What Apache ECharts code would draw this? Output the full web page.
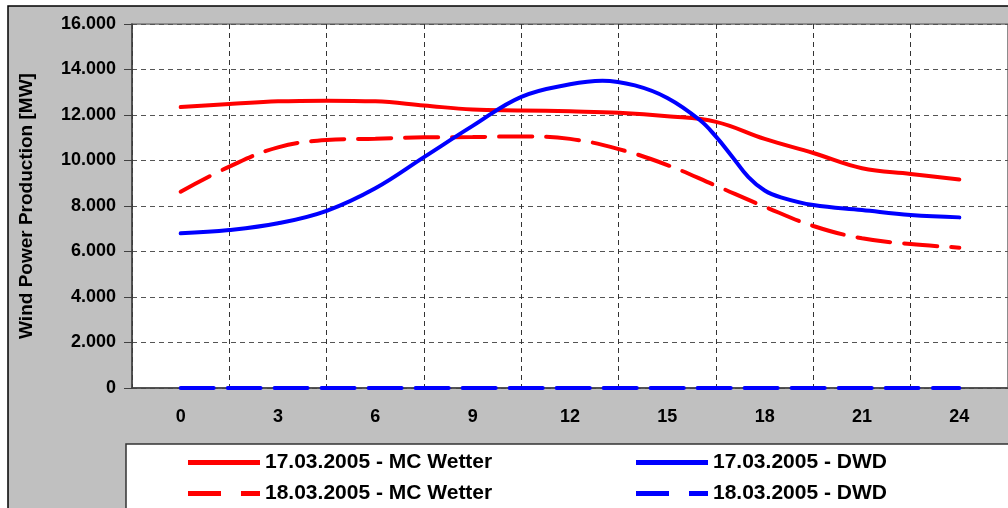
<!DOCTYPE html>
<html lang="de">
<head>
  <meta charset="UTF-8">
  <title>Wind Power Production</title>
  <style>
    html, body { margin: 0; padding: 0; background: #fff; }
    #chart { width: 1008px; height: 508px; }
  </style>
  <script src="https://cdn.jsdelivr.net/npm/echarts@6/dist/echarts.min.js"></script>
</head>
<body>
<div id="chart"></div>
<script>
  // Achsenbeschriftung (Stunden)
  const hourLabels = ['0', '3', '6', '9', '12', '15', '18', '21', '24']
  // Stützstellen der Kurven (Stunde)
  const hours = [0, 1.5, 3, 4.5, 6, 7.5, 9, 10.5, 12, 13.5, 15, 16.5, 18, 19.5, 21, 22.5, 24]
  const dwdHours = [0, 1.5, 3, 4.5, 6, 7.5, 9, 10.5, 12, 13, 14, 15, 16, 16.5, 17, 17.5, 18, 18.5, 19.5, 21, 22.5, 24]

  // Werte in MW
  const mc17  = [12350, 12480, 12600, 12630, 12600, 12420, 12240, 12200, 12160, 12100, 11950, 11700, 10950, 10330, 9660, 9410, 9160]
  const mc18  = [8630, 9730, 10580, 10900, 10960, 11020, 11030, 11060, 10950, 10500, 9800, 8890, 7970, 7120, 6580, 6330, 6170]
  const dwd17 = [6800, 6945, 7240, 7790, 8780, 10150, 11520, 12800, 13350, 13510, 13300, 12750, 11780, 11050, 10170, 9270, 8680, 8380, 8040, 7820, 7600, 7500]
  const dwd18 = [0, 0, 0, 0, 0, 0, 0, 0, 0, 0, 0, 0, 0, 0, 0, 0, 0]

  const names = ['17.03.2005 - MC Wetter', '18.03.2005 - MC Wetter', '17.03.2005 - DWD', '18.03.2005 - DWD']

  const pairs = (xs, vals) => xs.map((h, i) => [h, vals[i]])
  const fontFam = '"Liberation Sans", Arial, sans-serif'

  // Legendensymbole: durchgezogen bzw. gestrichelt
  const iconSolid = 'path://M0,0h72v5h-72z'
  const iconDash = 'path://M0,0h33v5h-33z M53,0h19v5h-19z'

  function lineSeries(name, xs, vals, color, dashed) {
    return {
      name: name,
      type: 'line',
      xAxisIndex: 1,
      data: pairs(xs, vals),
      smooth: 0.4,
      symbol: 'none',
      lineStyle: { color: color, width: 4, type: dashed ? [33, 14] : 'solid', cap: 'round' },
      itemStyle: { color: color }
    }
  }

  const legendText = { fontSize: 21, fontWeight: 'bold', color: '#000', fontFamily: fontFam }

  const chart = echarts.init(document.getElementById('chart'))
  const option = {
    animation: false,
    textStyle: { fontFamily: fontFam },
    graphic: [
      { // grauer Hintergrund mit Rahmen
        type: 'rect', z: -10,
        shape: { x: 8, y: 6, width: 1010, height: 520 },
        style: { fill: '#c0c0c0', stroke: '#000', lineWidth: 1.5 }
      },
      { // Legendenkasten
        type: 'rect', z: -5,
        shape: { x: 126, y: 444, width: 900, height: 80 },
        style: { fill: '#fff', stroke: '#333', lineWidth: 1.5 }
      }
    ],
    grid: {
      left: 132, top: 24, width: 881, height: 364,
      show: true, backgroundColor: '#fff', borderColor: '#8c8c8c', borderWidth: 2
    },
    legend: [
      {
        left: 188, top: 452, height: 80, orient: 'vertical', itemGap: 10, padding: 0,
        itemWidth: 72, itemHeight: 5,
        data: [{ name: names[0], icon: iconSolid }, { name: names[1], icon: iconDash }],
        textStyle: legendText
      },
      {
        left: 636, top: 452, height: 80, orient: 'vertical', itemGap: 10, padding: 0,
        itemWidth: 72, itemHeight: 5,
        data: [{ name: names[2], icon: iconSolid }, { name: names[3], icon: iconDash }],
        textStyle: legendText
      }
    ],
    xAxis: [
      {
        type: 'category',
        data: hourLabels,
        boundaryGap: true,
        axisLine: { lineStyle: { color: '#404040', width: 1.5 } },
        axisTick: { interval: 0, length: 6, lineStyle: { color: '#404040' } },
        axisLabel: { interval: 0, margin: 20, fontSize: 18, fontWeight: 'bold', color: '#000' },
        splitLine: { show: true, interval: 0, lineStyle: { color: '#333', type: [5, 4] } }
      },
      {
        type: 'value', min: -1.5, max: 25.5, show: false
      }
    ],
    yAxis: {
      type: 'value',
      min: 0, max: 16000, interval: 2000,
      name: 'Wind Power Production [MW]',
      nameLocation: 'middle',
      nameGap: 96,
      nameTextStyle: { fontSize: 19, fontWeight: 'bold', color: '#000', fontFamily: fontFam },
      axisLine: { show: true, onZero: false, lineStyle: { color: '#404040', width: 1.5 } },
      axisTick: { show: true, length: 8, lineStyle: { color: '#404040' } },
      axisLabel: {
        margin: 16, fontSize: 18, fontWeight: 'bold', color: '#000',
        formatter: v => String(v).replace(/\B(?=(\d{3})+(?!\d))/g, '.')
      },
      splitLine: { show: true, lineStyle: { color: '#555', type: [5, 4] } }
    },
    series: [
      lineSeries(names[0], hours, mc17, '#ff0000', false),
      lineSeries(names[1], hours, mc18, '#ff0000', true),
      lineSeries(names[2], dwdHours, dwd17, '#0000ff', false),
      lineSeries(names[3], hours, dwd18, '#0000ff', true)
    ]
  }
  chart.setOption(option)
</script>
</body>
</html>
